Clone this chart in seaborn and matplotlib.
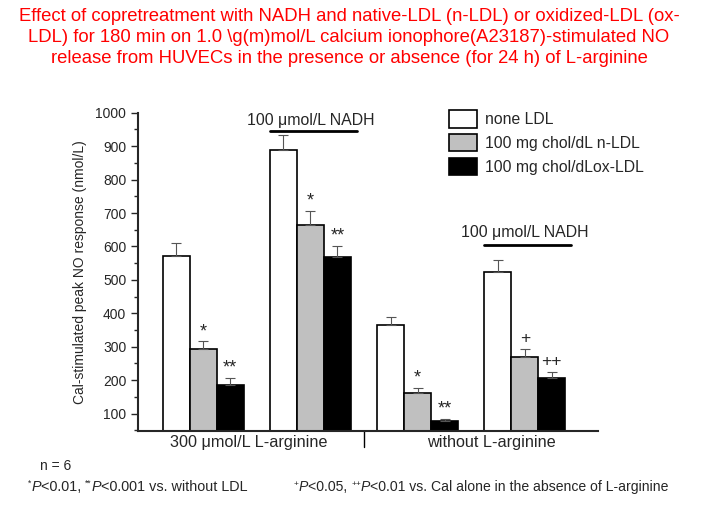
import matplotlib
matplotlib.use('Agg')
import matplotlib.pyplot as plt
from matplotlib.ticker import MultipleLocator
import pandas as pd
import numpy as np
import seaborn as sns

# data
groups = ['Arg + NADH 0', 'Arg + NADH', 'noArg', 'noArg + NADH']
ldl = ['none LDL', '100 mg chol/dL n-LDL', '100 mg chol/dLox-LDL']
values = {
    'none LDL':             [571, 888, 365, 524],
    '100 mg chol/dL n-LDL': [292, 664, 163, 270],
    '100 mg chol/dLox-LDL': [187, 568, 79, 206],
}
errors = {
    'none LDL':             [40, 44, 25, 34],
    '100 mg chol/dL n-LDL': [24, 42, 13, 22],
    '100 mg chol/dLox-LDL': [20, 34, 4, 17],
}
marks = {
    'none LDL':             ['', '', '', ''],
    '100 mg chol/dL n-LDL': ['*', '*', '*', '+'],
    '100 mg chol/dLox-LDL': ['**', '**', '**', '++'],
}
colors = ['white', '#c0c0c0', 'black']

rows = []
for l in ldl:
    for g, v in zip(groups, values[l]):
        rows.append({'group': g, 'ldl': l, 'value': v})
df = pd.DataFrame(rows)

sns.set_style('ticks')
plt.rcParams['font.family'] = ['Liberation Sans', 'DejaVu Sans']

fig = plt.figure(figsize=(7.01, 5.25), dpi=100)
ax = fig.add_axes([138/701, 94/525, 460/701, 318.3/525])

sns.barplot(data=df, x='group', y='value', hue='ldl', order=groups, hue_order=ldl,
            palette=colors, edgecolor='black', linewidth=1.2, width=0.755,
            errorbar=None, ax=ax)

# error bars (upper only) and significance marks
for l, cont in zip(ldl, ax.containers):
    for bar, v, e, m in zip(cont, values[l], errors[l], marks[l]):
        xc = bar.get_x() + bar.get_width() / 2
        ax.errorbar(xc, v, yerr=[[0], [e]], color='#555555', lw=0.8,
                    capsize=3.5, capthick=0.8)
        if m:
            if '+' in m:
                ax.text(xc, v + e + 10, m, ha='center', va='bottom', fontsize=12.5)
            else:
                ax.text(xc, v + e + 4, m, ha='center', va='bottom', fontsize=13)

ax.set_ylim(48, 1000)
ax.set_xlim(-0.608, 3.682)
ax.yaxis.set_major_locator(MultipleLocator(100))
ax.yaxis.set_minor_locator(MultipleLocator(50))
ax.set_yticks(np.arange(100, 1001, 100))
ax.tick_params(axis='y', which='major', length=5, width=1, labelsize=10)
ax.tick_params(axis='y', which='minor', length=3, width=1)
ax.set_xticks([])
ax.set_xlabel('')
ax.set_ylabel('Cal-stimulated peak NO response (nmol/L)', fontsize=10, labelpad=6)
sns.despine(ax=ax)
for s in ['left', 'bottom']:
    ax.spines[s].set_linewidth(1.5)

# NADH brackets
ax.plot([0.622, 1.433], [946, 946], color='black', lw=2, clip_on=False)
ax.text(1.0, 978, '100 μmol/L NADH', ha='center', va='center', fontsize=11.4)
ax.plot([2.617, 3.434], [604, 604], color='black', lw=2, clip_on=False)
ax.text(3.0, 642, '100 μmol/L NADH', ha='center', va='center', fontsize=11.4)

# group labels under the axis
trans = ax.get_xaxis_transform()
ax.plot([1.5, 1.5], [0, -0.05], color='black', lw=1, transform=trans, clip_on=False)
ax.text(0.427, -0.036, '300 μmol/L L-arginine', ha='center', va='center',
        fontsize=11.7, transform=trans)
ax.text(2.69, -0.036, 'without L-arginine', ha='center', va='center',
        fontsize=11.7, transform=trans)

# legend
ax.legend(loc='upper left', bbox_to_anchor=(0.676, 1.008), frameon=False,
          borderpad=0, borderaxespad=0, handlelength=1.78, handleheight=1.34,
          labelspacing=0.4, handletextpad=0.5, fontsize=11.3)

fig.text(0.498, 1 - 8/525,
         'Effect of copretreatment with NADH and native-LDL (n-LDL) or oxidized-LDL (ox-\n'
         'LDL) for 180 min on 1.0 \\g(m)mol/L calcium ionophore(A23187)-stimulated NO\n'
         'release from HUVECs in the presence or absence (for 24 h) of L-arginine',
         ha='center', va='top', color='red', fontsize=13.3, linespacing=1.32)


def rich_text(x, y, parts, fs):
    # chain text pieces: ('sup' | 'it' | 'rm', text)
    ref = fig.text(x, y, 'Pg', fontsize=fs, alpha=0, ha='left', va='center')
    prev = None
    for kind, txt in parts:
        xref = ref if prev is None else prev
        xx = 0 if prev is None else 1
        if kind == 'sup':
            t = ax.annotate(txt, xy=(xx, 0.42), xycoords=(xref, ref), fontsize=fs * 0.6,
                            ha='left', va='bottom', annotation_clip=False)
        else:
            t = ax.annotate(txt, xy=(xx, 0), xycoords=(xref, ref), fontsize=fs,
                            style='italic' if kind == 'it' else 'normal',
                            ha='left', va='bottom', annotation_clip=False)
        prev = t


fig.text(40/701, 1 - 466/525, 'n = 6', ha='left', va='center', fontsize=10)
rich_text(28/701, 1 - 487/525,
          [('sup', '*'), ('it', 'P'), ('rm', '<0.01, '), ('sup', '**'), ('it', 'P'),
           ('rm', '<0.001 vs. without LDL')], 10.4)
rich_text(294/701, 1 - 487/525,
          [('sup', '+'), ('it', 'P'), ('rm', '<0.05, '), ('sup', '++'), ('it', 'P'),
           ('rm', '<0.01 vs. Cal alone in the absence of L-arginine')], 10.1)

fig.savefig('out.png', dpi=100)
